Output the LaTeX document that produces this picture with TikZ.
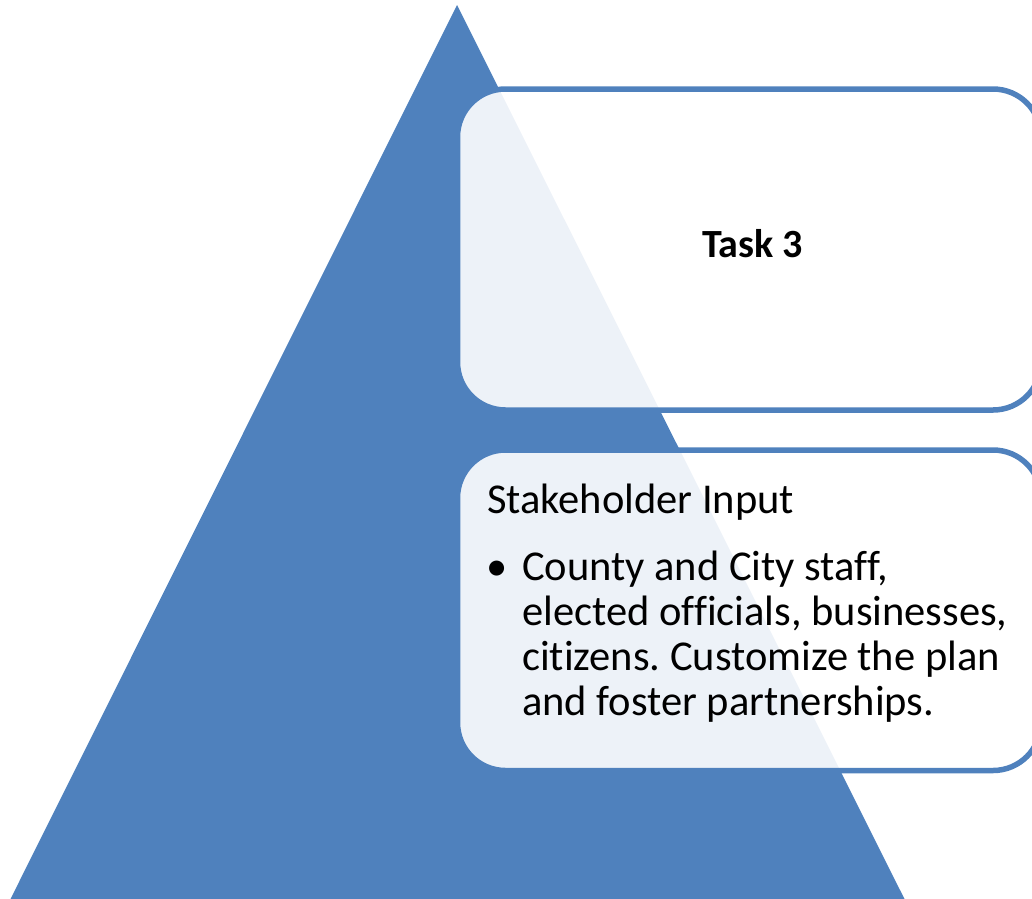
\documentclass[tikz,border=0pt]{standalone}
\usepackage{fontspec}
\setmainfont[Ligatures={NoCommon}]{Carlito}
\frenchspacing
\definecolor{tri}{HTML}{4F81BD}
\begin{document}
\begin{tikzpicture}[x=1pt,y=-1pt,
  panel/.style={draw=tri, line width=5.5pt, fill=white, fill opacity=0.9, draw opacity=1,
    rounded corners=48pt, minimum width=583.5pt, inner sep=0pt, text opacity=1},
  txt/.style={inner sep=0pt, anchor=base west, font=\fontsize{42.5}{45}\selectfont}]
\useasboundingbox (0,0) rectangle (1032,898);
\clip (0,0) rectangle (1032,898);
\fill[tri] (457,5) -- (905,900) -- (10,900) -- cycle;
\node[panel, minimum height=321pt] (top) at (749.25,249.5) {};
\node[panel, minimum height=320.5pt] (bot) at (749.25,610.25) {};
\node[inner sep=0pt, anchor=base, font=\fontsize{40}{45}\selectfont\bfseries] (task) at (752.5,257) {Task 3};
\node[txt] (title) at (487,513) {Stakeholder Input};
\node[txt] (bullet) at (486,580) {•};
\node[txt] (l1) at (522,580) {County and City staff,};
\node[txt] (l2) at (522,625) {elected officials, businesses,};
\node[txt] (l3) at (522,670) {citizens. Customize the plan};
\node[txt] (l4) at (522,715) {and foster partnerships.};
\end{tikzpicture}
\end{document}
